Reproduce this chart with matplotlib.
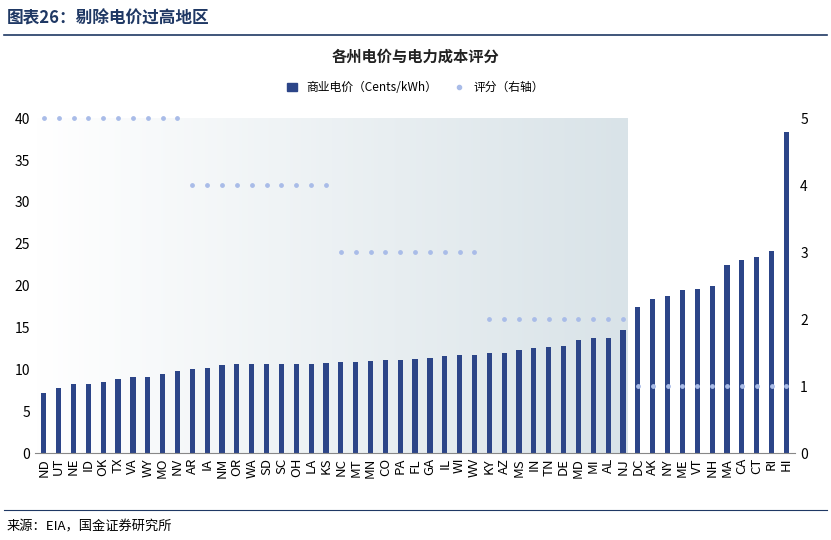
import matplotlib
matplotlib.use("Agg")
import matplotlib.pyplot as plt
import numpy as np
from matplotlib.lines import Line2D
from matplotlib.patches import Patch
from matplotlib.colors import LinearSegmentedColormap

plt.rcParams["font.family"] = ["Noto Sans CJK SC", "DejaVu Sans"]

states = ["ND","UT","NE","ID","OK","TX","VA","WY","MO","NV","AR","IA","NM","OR","WA","SD","SC","OH","LA","KS",
          "NC","MT","MN","CO","PA","FL","GA","IL","WI","WV","KY","AZ","MS","IN","TN","DE","MD","MI","AL","NJ",
          "DC","AK","NY","ME","VT","NH","MA","CA","CT","RI","HI"]
price = [7.2,7.8,8.2,8.3,8.5,8.9,9.1,9.1,9.4,9.8,10.1,10.2,10.5,10.6,10.6,10.6,10.6,10.7,10.7,10.8,
         10.9,10.9,11.0,11.1,11.1,11.2,11.3,11.6,11.7,11.7,11.9,11.9,12.3,12.5,12.7,12.8,13.5,13.7,13.8,14.7,
         17.5,18.4,18.8,19.5,19.6,19.9,22.5,23.1,23.4,24.1,38.3]
score = [5]*10 + [4]*10 + [3]*10 + [2]*10 + [1]*11

fig = plt.figure(figsize=(8.31, 5.4), dpi=100)
ax = fig.add_axes([0.042, 0.161, 0.915, 0.62])
x = np.arange(len(states))

grad = np.linspace(0, 1, 256).reshape(1, -1)
cm = LinearSegmentedColormap.from_list("g", ["#ffffff", "#d9e3e8"])
ax.imshow(grad, cmap=cm, extent=[-0.5, 39.35, 0, 40], aspect="auto", zorder=0)

ax.bar(x, price, width=0.35, color="#2C4588", zorder=2)
ax.set_xlim(-0.6, len(states) - 0.4)
ax.set_ylim(0, 40)
ax.set_yticks(range(0, 41, 5))
ax.set_xticks(x)
ax.set_xticklabels(states, rotation=90, fontsize=9.5)
ax.tick_params(axis="y", labelsize=10, length=0)
ax.tick_params(axis="x", length=0)
for s in ["top", "right", "left"]:
    ax.spines[s].set_visible(False)
ax.spines["bottom"].set_color("#888888")

ax2 = ax.twinx()
ax2.scatter(x, score, s=6, color="#A9BCE8", zorder=3, clip_on=False)
ax2.set_ylim(0, 5)
ax2.set_yticks(range(0, 6))
ax2.tick_params(axis="y", labelsize=10, length=0)
for s in ["top", "right", "left", "bottom"]:
    ax2.spines[s].set_visible(False)

fig.text(0.5, 0.885, "各州电价与电力成本评分", ha="center", fontsize=11, fontweight="bold", color="#222222")
handles = [Patch(color="#2C4588"), Line2D([], [], marker="o", ls="", color="#A9BCE8", markersize=3)]
fig.legend(handles, ["商业电价（Cents/kWh）", "评分（右轴）"], loc="center", bbox_to_anchor=(0.5, 0.838),
           ncol=2, frameon=False, fontsize=8.5, handlelength=0.8, columnspacing=1.5)

fig.text(0.008, 0.965, "图表26：剔除电价过高地区", fontsize=12, fontweight="bold", style="italic",
         va="center", color="#1F3864")
fig.add_artist(Line2D([0.005, 0.995], [0.935, 0.935], color="#1F3864", lw=1.2))
fig.add_artist(Line2D([0.005, 0.995], [0.055, 0.055], color="#1F3864", lw=0.8))
fig.text(0.008, 0.025, "来源：EIA，国金证券研究所", fontsize=9.5, va="center")

fig.savefig("out.png", dpi=100)
